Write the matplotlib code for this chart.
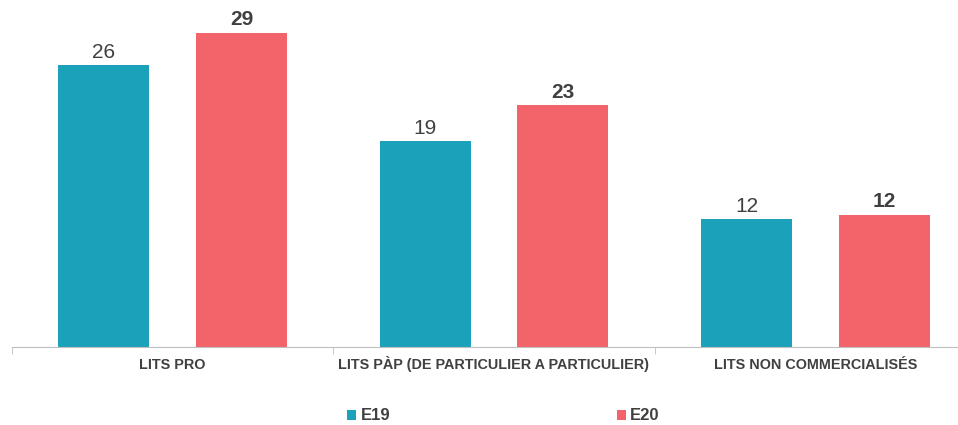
import matplotlib.pyplot as plt
import numpy as np

# data
categories = ['LITS PRO', 'LITS PÀP (DE PARTICULIER A PARTICULIER)', 'LITS NON COMMERCIALISÉS']
e19 = [26, 19, 11.8]
e20 = [29, 22.3, 12.2]
e19_labels = ['26', '19', '12']
e20_labels = ['29', '23', '12']
series = ['E19', 'E20']

teal = '#1ba1b9'
red = '#f2636a'
txt = '#404040'

plt.rcParams['font.family'] = ['Liberation Sans', 'DejaVu Sans']

fig = plt.figure(figsize=(9.58, 4.25), dpi=100)
ax = fig.add_axes([12/958, 1-347/425, 964/958, 347/425])

x = np.arange(len(categories))
w = 0.283
off = 0.214
b1 = ax.bar(x - off, e19, w, color=teal, label=series[0])
b2 = ax.bar(x + off, e20, w, color=red, label=series[1])

# value labels
for rect, lab in zip(b1, e19_labels):
    ax.text(rect.get_x() + rect.get_width()/2, rect.get_height() + 0.3, lab,
            ha='center', va='bottom', fontsize=15, color=txt)
for rect, lab in zip(b2, e20_labels):
    ax.text(rect.get_x() + rect.get_width()/2, rect.get_height() + 0.3, lab,
            ha='center', va='bottom', fontsize=15, color=txt, fontweight='bold')

ax.set_xlim(-0.5, 2.5)
ax.set_ylim(0, 32)
ax.set_xticks(x)
ax.set_xticklabels(categories, fontsize=10.4, fontweight='bold', color=txt)
for t in ax.get_xticklabels():
    t.set_va('baseline')
ax.tick_params(axis='x', length=0, pad=16)
ax.set_xticks([-0.5, 0.5, 1.5, 2.5], minor=True)
ax.tick_params(axis='x', which='minor', length=5, color='#bfbfbf', direction='out')
ax.set_yticks([])
for s in ['top', 'right', 'left']:
    ax.spines[s].set_visible(False)
ax.spines['bottom'].set_color('#bfbfbf')

fig.legend(handles=[b1, b2], labels=series, loc='center', ncol=2,
           bbox_to_anchor=(0.5256, 1 - 416/425), frameon=False,
           prop={'weight': 'bold', 'size': 12}, handlelength=0.55, handleheight=0.55,
           handletextpad=0.25, columnspacing=13.6, labelcolor=txt)

fig.savefig('out.png', dpi=100)
